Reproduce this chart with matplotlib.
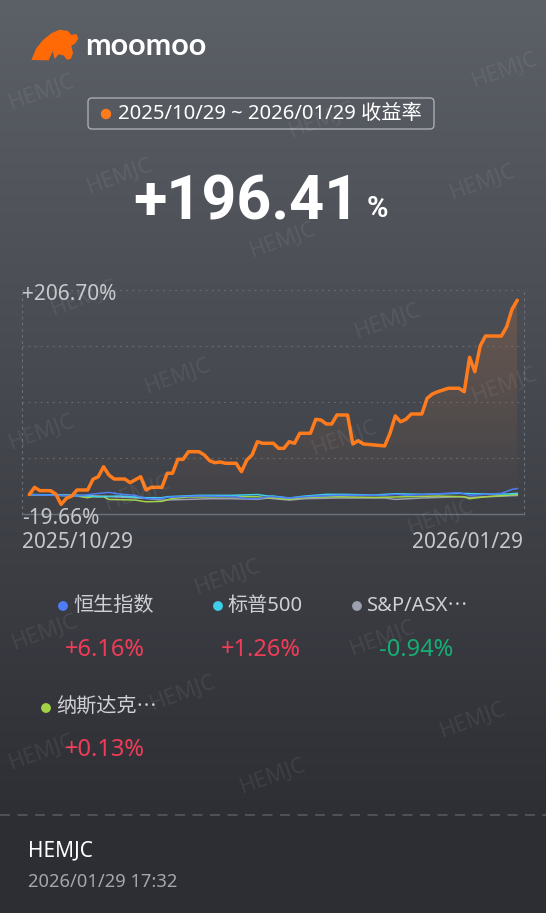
import numpy as np
import matplotlib
matplotlib.use('Agg')
import matplotlib.pyplot as plt
from matplotlib.patches import FancyBboxPatch, Circle, Polygon
from matplotlib.colors import to_rgb

FAM = ['Noto Sans', 'Noto Sans CJK SC', 'DejaVu Sans']
plt.rcParams['font.family'] = FAM

# ---- data (day offset from 2025/10/29, cumulative return %) ----
start_date = '2025/10/29'
end_date = '2026/01/29'
total_return = 196.41
y_min, y_max = -19.66, 206.70

strat_days = [0, 1, 2, 4, 5, 6, 7, 8, 9, 11, 12, 13, 14, 15, 16, 18, 19, 21, 22, 23,
              25, 26, 27, 28, 29, 30, 32, 33, 34, 35, 36, 37, 39, 40, 41, 42, 43, 44, 46, 47,
              48, 49, 50, 51, 53, 54, 55, 56, 57, 58, 60, 61, 62, 63, 65, 67, 68, 69, 70, 71,
              72, 74, 75, 76, 77, 79, 81, 82, 83, 84, 85, 86, 89, 90, 91, 92]
strat_vals = [0, 7.3, 3.9, 3.9, 0.5, -9.9, -3.8, -1.5, 4.6, 4.6, 15.4, 18.0, 28.1, 19.8, 15.7, 15.7, 12.0, 18.0, 4.6, 7.3,
              7.3, 21.5, 21.5, 35.6, 35.6, 43.3, 43.3, 40.0, 34.2, 32.2, 32.9, 31.6, 31.6, 23.1, 34.9, 40.0, 53.4, 51.8, 51.8, 46.7,
              46.7, 53.4, 51.8, 61.9, 61.9, 76.0, 75.3, 71.3, 71.3, 80.4, 80.4, 51.1, 54.4, 51.1, 50.1, 49.1, 61.9, 79.4, 73.6, 76.0,
              81.4, 81.4, 97.3, 101.6, 103.9, 107.4, 107.4, 103.9, 138.7, 124.1, 150.1, 160.2, 160.2, 169.6, 187.2, 196.41]

hsi_days = [0, 9, 12, 15, 17, 20, 22, 25, 26, 28, 32, 39, 41, 43, 45, 46, 49, 52, 58, 67, 69, 71, 76, 81, 83, 86, 89, 91, 92]
hsi_vals = [0, -1.5, 0.5, 2.2, 0.5, -0.8, -4.2, -4.2, -2.9, -2.2, -1.5, -2.2, -4.2, -4.2, -2.2, -2.2, -3.5, -2.2, -0.8, -0.8, 0.2, -0.8, 0.5, 1.9, -0.8, 0.2, 1.2, 5.2, 6.16]

spx_days = [0, 9, 13, 17, 22, 25, 26, 32, 38, 43, 45, 46, 49, 52, 56, 59, 65, 69, 74, 81, 86, 90, 92]
spx_vals = [0, -0.8, -2.2, -1.5, -3.2, -3.2, -2.2, -0.8, -0.8, 0.0, -1.5, -1.5, -3.5, -1.5, 0.2, 0.2, -0.5, 0.8, 0.2, 1.2, 0.5, 0.5, 1.26]

asx_days = [0, 9, 13, 22, 25, 30, 34, 38, 43, 45, 46, 49, 52, 58, 67, 69, 74, 81, 83, 92]
asx_vals = [0, -0.8, -1.5, -3.9, -5.6, -4.9, -4.2, -4.2, -4.9, -3.5, -4.2, -5.6, -4.2, -3.5, -3.5, -4.9, -3.5, -2.2, -2.9, -0.94]

ndx_days = [0, 9, 11, 12, 14, 15, 20, 22, 25, 27, 30, 38, 43, 45, 46, 49, 52, 58, 65, 71, 77, 82, 83, 86, 90, 92]
ndx_vals = [0, -1.5, -3.2, -2.2, -2.2, -4.9, -5.6, -7.3, -6.9, -3.9, -2.5, -2.2, -2.2, -3.5, -3.2, -4.9, -2.9, -2.2, -2.9, -2.2, -1.5, -2.2, -4.2, -2.2, -0.8, 0.13]

bench_names = ['恒生指数', '标普500', 'S&P/ASX⋯', '纳斯达克⋯']
bench_returns = [6.16, 1.26, -0.94, 0.13]
bench_colors = ['#4d7cf6', '#3fcfea', '#9aa0ad', '#a2d246']

ORANGE = '#ff7b1c'
UP = '#f03c58'
DOWN = '#16ad74'

W, H = 546, 913
fig = plt.figure(figsize=(W / 100, H / 100), dpi=100)

# background gradient
bg = fig.add_axes([0, 0, 1, 1], zorder=0)
top, bot = np.array(to_rgb('#5c6067')), np.array(to_rgb('#2e2f35'))
t = np.clip(np.linspace(0, 1, H) / (815 / H), 0, 1)[:, None]
grad = top * (1 - t) + bot * t
grad[815:] = to_rgb('#2d2e33')
bg.imshow(grad[:, None, :], aspect='auto', extent=(0, W, H, 0))
bg.set_xlim(0, W)
bg.set_ylim(H, 0)
bg.axis('off')

# chart axes: day 0 at x=29.3px, day 92 at x=517.3px
px_day = (517.3 - 29.3) / 92
ax_l, ax_r = 22, 524
ax = fig.add_axes([ax_l / W, (H - 514) / H, (ax_r - ax_l) / W, 224 / H], zorder=1)
ax.patch.set_alpha(0)
xlim = (-(29.3 - ax_l) / px_day, 92 + (ax_r - 517.3) / px_day)
ax.set_yticks(np.linspace(y_min, y_max, 5))
ax.set_xticks([])
ax.tick_params(left=False, labelleft=False)
ax.grid(axis='y', color='#6b6f76', linestyle=(0, (1.5, 4)), linewidth=0.8)
for side in ['left', 'right']:
    ax.spines[side].set_color('#6b6f76')
    ax.spines[side].set_linestyle((0, (1.5, 4)))
    ax.spines[side].set_linewidth(0.8)
ax.spines['top'].set_visible(False)
ax.spines['bottom'].set_color('#6c6f75')
ax.spines['bottom'].set_linewidth(1.0)

# gradient fill below strategy curve
fill = ax.fill_between(strat_days, strat_vals, y_min, color='none', lw=0)
rgba = np.zeros((100, 1, 4))
rgba[..., :3] = to_rgb('#ff8a3a')
rgba[..., 3] = np.linspace(0.18, 0.0, 100)[:, None]
im = ax.imshow(rgba, aspect='auto', extent=(0, 92, y_min, y_max), origin='upper', zorder=1)
im.set_clip_path(fill.get_paths()[0], transform=ax.transData)
ax.set_xlim(*xlim)
ax.set_ylim(y_min, y_max)

for d, v, c in zip([asx_days, ndx_days, spx_days, hsi_days],
                   [asx_vals, ndx_vals, spx_vals, hsi_vals],
                   [bench_colors[2], bench_colors[3], bench_colors[1], bench_colors[0]]):
    ax.plot(d, v, color=c, lw=1.1, zorder=2, solid_joinstyle='round')
ax.plot(strat_days, strat_vals, color=ORANGE, lw=2.5, zorder=3,
        solid_joinstyle='round', solid_capstyle='round')

# overlay canvas for text in pixel coordinates
cv = fig.add_axes([0, 0, 1, 1], zorder=2)
cv.patch.set_alpha(0)
cv.set_xlim(0, W)
cv.set_ylim(H, 0)
cv.axis('off')

# logo
bull = [(40, 105), (55, 70), (75, 45), (100, 25), (125, 14), (150, 18), (160, 30), (175, 27),
        (181, 40), (172, 55), (160, 62), (165, 85), (158, 102), (146, 104), (138, 92), (122, 88),
        (110, 102), (104, 78), (92, 106)]
cv.add_patch(Polygon([(x / 3 + 18, y / 3 + 25) for x, y in bull], closed=True,
                     facecolor='#ff6a06', edgecolor='none'))
cv.text(85, 46, 'moomoo', color='white', fontsize=22, fontweight='bold',
        family=['Lato', 'DejaVu Sans'], va='center', ha='left')

# period pill
cv.add_patch(FancyBboxPatch((88, 98), 346, 31, boxstyle='round,pad=0,rounding_size=4',
                            facecolor='none', edgecolor='#a9acb1', lw=1.0))
cv.add_patch(Circle((106, 114), 4.5, color=ORANGE))
cv.text(118, 114, f'{start_date} ~ {end_date} 收益率', color='white', fontsize=14.6,
        va='center', ha='left')

# headline return
cv.text(133, 219, f'+{total_return:.2f}', color='white', fontsize=44, fontweight='bold',
        family=['Roboto', 'DejaVu Sans'], va='baseline', ha='left')
cv.text(367, 217, '%', color='white', fontsize=21, fontweight='bold',
        family=['Roboto', 'DejaVu Sans'], va='baseline', ha='left')

# axis labels
lab = '#c7c8cc'
cv.text(22, 294, f'+{y_max:.2f}%', color=lab, fontsize=15, va='center', ha='left')
cv.text(22, 518, f'{y_min:.2f}%', color=lab, fontsize=15, va='center', ha='left')
cv.text(22, 543, start_date, color=lab, fontsize=15, va='center', ha='left')
cv.text(523, 543, end_date, color=lab, fontsize=15, va='center', ha='right')

# legend
leg_dot = [(63, 606), (218, 606), (357, 606), (46, 708)]
leg_val = [(105, 650), (261, 650), (416, 650), (105, 750)]
for name, ret, col, (dx, dy), (vx, vy) in zip(bench_names, bench_returns, bench_colors, leg_dot, leg_val):
    cv.add_patch(Circle((dx, dy), 4.2, color=col))
    cv.text(dx + 10, dy, name, color='#cfd0d4', fontsize=14.5, va='center', ha='left')
    cv.text(vx, vy, f'{ret:+.2f}%', color=UP if ret >= 0 else DOWN, fontsize=17,
            va='center', ha='center')

# footer
cv.plot([0, W], [815, 815], color='#55585e', lw=1.2, linestyle=(0, (6, 4.5)))
cv.text(28, 851, 'HEMJC', color='white', fontsize=15, va='center', ha='left')
cv.text(28, 882, f'{end_date} 17:32', color='#a6a7ab', fontsize=13.2, va='center', ha='left')

# watermarks (kept fully inside the canvas)
marks = [(42, 92), (505, 70), (322, 120), (120, 176), (483, 182), (283, 240), (84, 298),
         (178, 376), (42, 432), (505, 385), (388, 321), (345, 438), (138, 493), (441, 517),
         (228, 577), (45, 632), (383, 638), (183, 693), (473, 720), (42, 752), (273, 776)]
for x, y in marks:
    cv.text(x, y, 'HEMJC', color='white', alpha=0.07, fontsize=16, rotation=20,
            va='center', ha='center', zorder=5)

fig.savefig('out.png', dpi=100)
